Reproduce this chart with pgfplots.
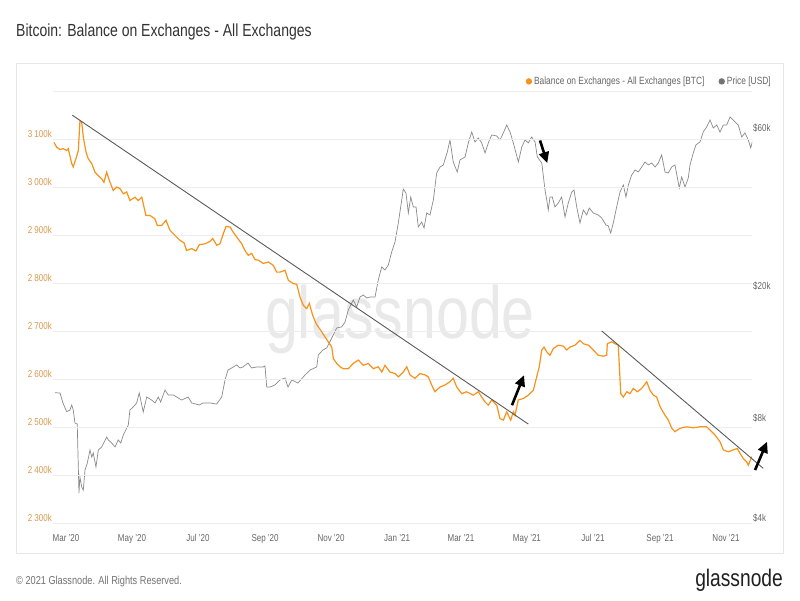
\documentclass[border=0pt]{standalone}
\usepackage{fontspec}
\setmainfont{Liberation Sans}[FakeStretch=0.8]
\usepackage{pgfplots}
\pgfplotsset{compat=1.18}
\usetikzlibrary{arrows.meta}
\definecolor{btc}{HTML}{F7931A}
\definecolor{pricegray}{HTML}{8A8A8A}
\definecolor{gridgray}{HTML}{EDEDED}
\definecolor{boxgray}{HTML}{E6E6E6}
\definecolor{tanlabel}{HTML}{D99A4E}
\definecolor{labgray}{HTML}{666666}
\definecolor{trend}{HTML}{5A5A5A}
\definecolor{wmark}{HTML}{E9E9E9}
\newcommand{\fs}[1]{\fontsize{#1}{#1}\selectfont}

\begin{document}
\begin{tikzpicture}[x=1pt,y=1pt]
\fill[white] (0,0) rectangle (800,600);
\draw[boxgray, line width=1pt] (16,47) rectangle (783,536);
\node[anchor=base west, inner sep=0pt, text=black!80] at (16,563.3) {\fs{17.5}Bitcoin: Balance on Exchanges - All Exchanges};
% watermark
\node[anchor=base, inner sep=0pt, text=wmark] at (400,261) {\fs{74}glassnode};

% price axis (right, log)
\begin{axis}[
  at={(53pt,76.6pt)}, anchor=south west,
  scale only axis, width=699pt, height=432.4pt,
  xmin=-12, xmax=634,
  ymode=log, ymin=4000, ymax=80540,
  axis y line*=right,
  axis x line=none,
  axis line style={draw=none},
  tick style={draw=none},
  ytick={4000,8000,20000,60000},
  yticklabels={\$4k,\$8k,\$20k,\$60k},
  yticklabel style={anchor=base west, inner sep=0pt, xshift=1pt, yshift=2pt, text=labgray, font=\fs{10}},
  clip=true,
]
\addplot[pricegray, line width=0.7pt] coordinates {
(-10.2,9910) (-5.5,9890) (-2.8,9230) (0.6,8690) (3.7,8790) (5.3,9100) (6.7,8790) (8.3,8030) (10.4,7980) (12.0,4940) (12.9,5520) (14.5,5150) (16.0,5040) (17.6,5800) (19.7,6080) (22.2,6660) (23.8,6340) (25.2,6520) (27.7,5920) (29.9,6660) (33.0,6800) (37.6,7290) (39.1,7140) (42.2,6990) (45.3,6800) (48.3,7140) (50.6,6990) (53.0,7390) (57.6,7920) (59.1,8790) (62.2,8980) (65.3,9230) (67.7,9890) (71.4,8670) (74.6,9620) (79.2,9420) (82.3,9230) (85.3,9620) (87.5,9290) (91.5,10100) (94.5,9760) (99.2,9760) (102.3,9620) (106.9,9420) (113.0,9620) (116.2,9230) (123.2,9100) (126.6,9230) (133.1,9230) (139.3,9160) (143.9,9620) (147.0,10830) (149.7,11600) (153.1,11770) (157.8,12020) (160.8,11770) (163.6,11850) (168.2,12180) (171.6,11770) (176.2,11850) (182.1,11850) (183.9,11930) (185.5,10310) (188.5,10310) (193.2,10460) (197.8,10830) (202.4,10980) (205.2,10310) (208.6,10830) (214.4,10600) (220.9,11210) (225.5,11600) (231.7,11850) (233.2,12880) (237.5,13340) (240.9,13520) (243.3,14000) (247.0,14800) (250.2,15540) (254.8,15650) (257.9,16200) (260.9,17600) (264.1,18480) (265.5,18870) (268.7,17980) (271.7,19270) (274.8,19540) (277.9,19130) (281.0,19270) (285.6,19270) (288.6,21680) (291.8,23740) (294.8,23240) (297.9,24060) (301.0,26340) (304.1,28230) (307.1,32210) (310.3,37790) (311.7,40770) (314.2,39670) (316.4,34530) (318.6,38580) (321.0,36000) (323.5,36000) (325.6,31330) (328.7,32430) (330.9,31110) (333.4,34530) (336.4,34050) (339.5,37790) (342.6,45570) (345.7,47510) (348.7,48170) (352.4,52720) (354.9,57310) (357.9,49200) (361.6,45890) (364.1,49890) (368.8,50930) (371.8,56160) (375.0,60580) (378.0,56530) (381.1,58130) (384.2,56160) (387.3,52360) (390.3,56160) (393.4,59350) (398.1,58940) (401.1,57310) (404.2,60180) (407.3,63600) (410.4,60580) (413.4,56160) (418.1,49200) (421.2,54610) (424.2,57310) (427.3,56160) (430.4,58530) (433.5,56530) (435.6,50930) (439.7,48860) (442.7,40500) (444.3,37790) (445.7,35250) (447.3,38580) (449.4,38580) (451.9,36000) (455.0,37010) (458.1,38580) (461.2,33580) (464.2,37010) (467.4,39940) (469.5,40500) (472.0,36000) (475.0,32210) (478.1,35250) (481.2,34050) (483.6,35740) (487.3,34530) (491.9,34050) (495.1,33350) (499.0,31770) (501.2,31550) (503.4,30040) (505.8,32210) (508.9,36000) (512.0,39940) (515.1,41930) (517.5,38580) (519.7,41930) (522.8,44930) (525.9,46530) (528.9,45890) (532.1,47510) (535.1,49200) (538.2,48170) (541.3,48860) (544.4,47510) (547.4,48860) (550.5,51650) (553.6,45890) (556.6,45570) (559.8,47510) (562.8,48170) (566.8,41070) (569.0,44330) (572.1,41350) (575.1,44030) (576.7,48170) (579.7,52360) (582.2,55370) (585.9,56530) (588.9,60580) (592.1,62730) (595.2,65870) (598.2,62290) (601.4,63600) (604.4,60580) (607.5,63600) (610.6,63600) (613.7,67250) (618.3,64960) (621.3,63600) (624.5,58530) (627.5,60180) (630.6,57310) (632.8,54240) (635.2,58130)
};
\end{axis}

% balance axis (left)
\begin{axis}[
  at={(53pt,76.6pt)}, anchor=south west,
  scale only axis, width=699pt, height=432.4pt,
  xmin=-12, xmax=634,
  ymin=2300, ymax=3200,
  axis line style={draw=none},
  tick style={draw=none},
  ymajorgrids, grid style={gridgray, line width=0.8pt},
  ytick={2300,2400,...,3200},
  yticklabels={2 300k,2 400k,2 500k,2 600k,2 700k,2 800k,2 900k,3 000k,3 100k,{}},
  yticklabel style={anchor=base east, inner sep=0pt, xshift=-1pt, yshift=2pt, text=tanlabel, font=\fs{10}},
  xtick={0,61,122,184,245,306,365,426,487,549,610},
  xticklabels={Mar '20,May '20,Jul '20,Sep '20,Nov '20,Jan '21,Mar '21,May '21,Jul '21,Sep '21,Nov '21},
  xticklabel style={anchor=base, inner sep=0pt, yshift=-17.6pt, text=labgray, font=\fs{10}},
  clip=false,
]
\addplot[btc, line width=1.2pt] coordinates {
(-11.1,3093) (-8.6,3083) (-5.5,3078) (-2.5,3080) (0.6,3076) (2.1,3080) (5.3,3049) (6.7,3042) (9.2,3059) (11.4,3076) (12.9,3137) (14.5,3135) (16.0,3104) (18.5,3073) (20.6,3059) (23.8,3049) (26.8,3031) (29.9,3024) (33.0,3017) (35.1,3010) (37.6,3031) (40.7,3010) (43.7,2993) (46.9,3000) (49.9,2997) (53.0,2986) (56.1,2990) (59.1,2972) (63.8,2979) (66.8,2972) (70.0,2979) (73.9,2941) (77.6,2941) (82.2,2934) (84.4,2920) (88.4,2920) (92.4,2931) (96.1,2910) (99.2,2903) (102.3,2896) (105.4,2889) (109.1,2884) (111.5,2868) (116.2,2872) (120.1,2867) (123.2,2880) (128.5,2882) (133.1,2887) (135.6,2893) (139.3,2879) (142.3,2882) (145.4,2903) (147.9,2918) (151.6,2917) (154.6,2906) (157.8,2896) (162.4,2882) (165.4,2868) (168.5,2858) (171.6,2862) (174.7,2849) (177.7,2848) (182.3,2841) (187.0,2844) (191.6,2837) (194.7,2823) (197.8,2823) (202.4,2827) (205.5,2806) (210.1,2799) (213.2,2798) (216.3,2771) (219.3,2754) (222.5,2747) (224.9,2758) (228.0,2733) (231.1,2716) (233.2,2709) (236.3,2699) (239.4,2688) (242.4,2678) (245.6,2667) (247.1,2643) (250.2,2633) (253.2,2626) (256.3,2622) (260.9,2622) (265.5,2633) (270.1,2640) (274.8,2629) (279.4,2633) (284.0,2622) (288.6,2626) (291.8,2615) (294.8,2629) (299.4,2615) (304.1,2612) (307.1,2605) (311.7,2615) (314.9,2626) (317.9,2609) (322.5,2602) (327.2,2612) (331.8,2609) (334.8,2605) (338.0,2588) (341.0,2574) (345.7,2584) (350.3,2588) (354.9,2595) (357.9,2602) (361.1,2584) (365.7,2570) (370.3,2574) (376.4,2567) (381.1,2574) (384.2,2563) (387.2,2553) (390.3,2546) (393.4,2557) (398.1,2546) (401.1,2518) (404.2,2515) (407.3,2532) (411.0,2515) (413.4,2532) (415.0,2525) (418.0,2557) (422.7,2560) (427.3,2567) (431.9,2577) (435.0,2605) (437.4,2626) (439.7,2661) (441.8,2667) (444.3,2657) (447.3,2650) (450.4,2664) (455.0,2671) (459.6,2669) (462.7,2661) (465.8,2667) (470.4,2671) (475.0,2681) (478.1,2674) (482.7,2671) (487.3,2661) (491.9,2650) (496.6,2648) (499.7,2650) (500.3,2674) (504.3,2678) (507.4,2674) (510.4,2671) (512.7,2570) (515.1,2563) (518.2,2574) (521.2,2570) (524.3,2581) (528.0,2574) (532.1,2581) (536.7,2595) (539.7,2577) (542.8,2567) (545.9,2563) (549.0,2543) (553.6,2525) (556.7,2515) (559.8,2498) (562.8,2491) (567.5,2498) (573.6,2501) (579.7,2499) (585.9,2501) (592.1,2501) (596.7,2491) (599.8,2484) (604.4,2470) (607.5,2453) (612.1,2449) (616.7,2453) (620.4,2456) (622.9,2446) (625.9,2435) (629.1,2428) (630.6,2421) (633.7,2439)
};
% trend lines and arrows
\draw[trend, line width=0.9pt] (axis cs:5.8,3149.7) -- (axis cs:427.3,2506.7);
\draw[trend, line width=0.9pt] (axis cs:495.1,2700.6) -- (axis cs:644.4,2414.6);
\draw[black, line width=2.6pt, -{Triangle[length=11pt,width=10pt]}] (axis cs:438.1,3097) -- (axis cs:444.8,3050);
\draw[black, line width=2.6pt, -{Triangle[length=11pt,width=10pt]}] (axis cs:412.2,2546) -- (axis cs:423.3,2608.5);
\draw[black, line width=2.6pt, -{Triangle[length=11pt,width=10pt]}] (axis cs:636.8,2411) -- (axis cs:647.9,2470);
\end{axis}

% legend
\node[anchor=base east, inner sep=0pt, text=labgray] (pl) at (771,515) {\fs{10.5}Price [USD]};
\fill[black!55] ([xshift=-5pt,yshift=3.6pt]pl.base west) circle (3.2pt);
\node[anchor=base east, inner sep=0pt, text=labgray] (bl) at ([xshift=-22pt]pl.base west) {\fs{10.5}Balance on Exchanges - All Exchanges [BTC]};
\fill[btc] ([xshift=-5pt,yshift=3.6pt]bl.base west) circle (3.2pt);

% footer
\node[anchor=base west, inner sep=0pt, text=black!55] at (16,16) {\fs{11.5}© 2021 Glassnode. All Rights Reserved.};
\node[anchor=base east, inner sep=0pt, text=black!88] at (783,14) {\fs{24}glassnode};
\end{tikzpicture}
\end{document}
